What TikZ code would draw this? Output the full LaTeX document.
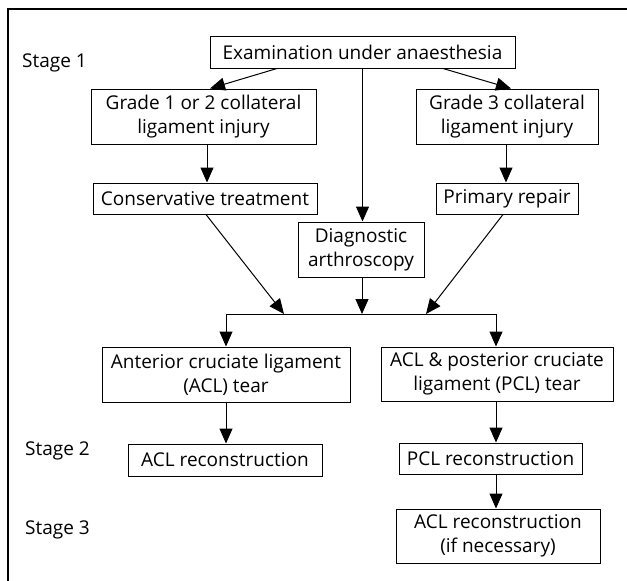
\documentclass[tikz,border=0pt]{standalone}
\usepackage{fontspec}
\setmainfont{Open Sans}
\usetikzlibrary{arrows.meta,calc}
\tikzset{
  box/.style={draw, line width=1pt, align=center, inner sep=0pt, font=\fontsize{19}{24}\selectfont},
  arr/.style={line width=1pt, -{Triangle[length=15pt,width=13pt]}},
  ln/.style={line width=1pt},
  stagelbl/.style={anchor=west, inner sep=0pt, font=\fontsize{19}{24}\selectfont}
}
\begin{document}
\begin{tikzpicture}[x=1pt,y=-1pt]
\useasboundingbox (0,0) rectangle (627,581);
\draw[line width=1.2pt] (627,9) -- (8,9) -- (8,581);
% nodes
\node[box, minimum width=305pt, minimum height=32pt] (exam) at (362.5,52) {Examination under anaesthesia};
\node[box, minimum width=225pt, minimum height=55pt] (g12) at (203.5,116.5) {Grade 1 or 2 collateral\\ligament injury};
\node[box, minimum width=182pt, minimum height=55pt] (g3) at (507,116.5) {Grade 3 collateral\\ligament injury};
\node[box, minimum width=224pt, minimum height=31pt] (cons) at (205,198.5) {Conservative treatment};
\node[box, minimum width=142pt, minimum height=31pt] (prim) at (507,198.5) {Primary repair};
\node[box, minimum width=126pt, minimum height=55pt] (diag) at (361,249.5) {Diagnostic\\arthroscopy};
\node[box, minimum width=248pt, minimum height=55pt] (acl) at (226,374.5) {Anterior cruciate ligament\\(ACL) tear};
\node[box, minimum width=232pt, minimum height=54pt] (aclpcl) at (497,374) {ACL \& posterior cruciate\\ligament (PCL) tear};
\node[box, minimum width=194pt, minimum height=32pt] (aclrec) at (225,460) {ACL reconstruction};
\node[box, minimum width=183pt, minimum height=31pt] (pclrec) at (490.5,458.5) {PCL reconstruction};
\node[box, minimum width=204pt, minimum height=54pt] (aclnec) at (498,536) {ACL reconstruction\\(if necessary)};
% stage labels
\node[stagelbl] (s1) at (22,63) {Stage 1};
\node[stagelbl] (s2) at (25,451) {Stage 2};
\node[stagelbl] (s3) at (25,530) {Stage 3};
% junction coordinates
\coordinate (hl) at (226,314);
\coordinate (hr) at (496,314);
\coordinate (jc) at (284,314);
\coordinate (jd) at (362,314);
\coordinate (jp) at (426,314);
% connectors
\draw[arr] ([xshift=-85.5pt]exam.south) -- ([xshift=6.5pt]g12.north);
\draw[arr] ([xshift=80.5pt]exam.south) -- ([xshift=4pt]g3.north);
\draw[arr] (exam.south) -- (exam.south |- diag.north);
\draw[arr] ([xshift=2pt]cons.north |- g12.south) -- ([xshift=2pt]cons.north);
\draw[arr] ([xshift=-1pt]prim.north |- g3.south) -- ([xshift=-1pt]prim.north);
\draw[arr] ([xshift=1pt]cons.south) -- (jc);
\draw[arr] ([xshift=1pt]diag.south) -- (jd);
\draw[arr] ([xshift=-4pt]prim.south) -- (jp);
\draw[ln] (hl) -- (hr);
\draw[arr] (hl) -- (acl.north);
\draw[arr] (hr) -- (hr |- aclpcl.north);
\draw[arr] (acl.south) -- (acl.south |- aclrec.north);
\draw[arr] (hr |- aclpcl.south) -- (hr |- pclrec.north);
\draw[arr] (hr |- pclrec.south) -- (hr |- aclnec.north);
\end{tikzpicture}
\end{document}
